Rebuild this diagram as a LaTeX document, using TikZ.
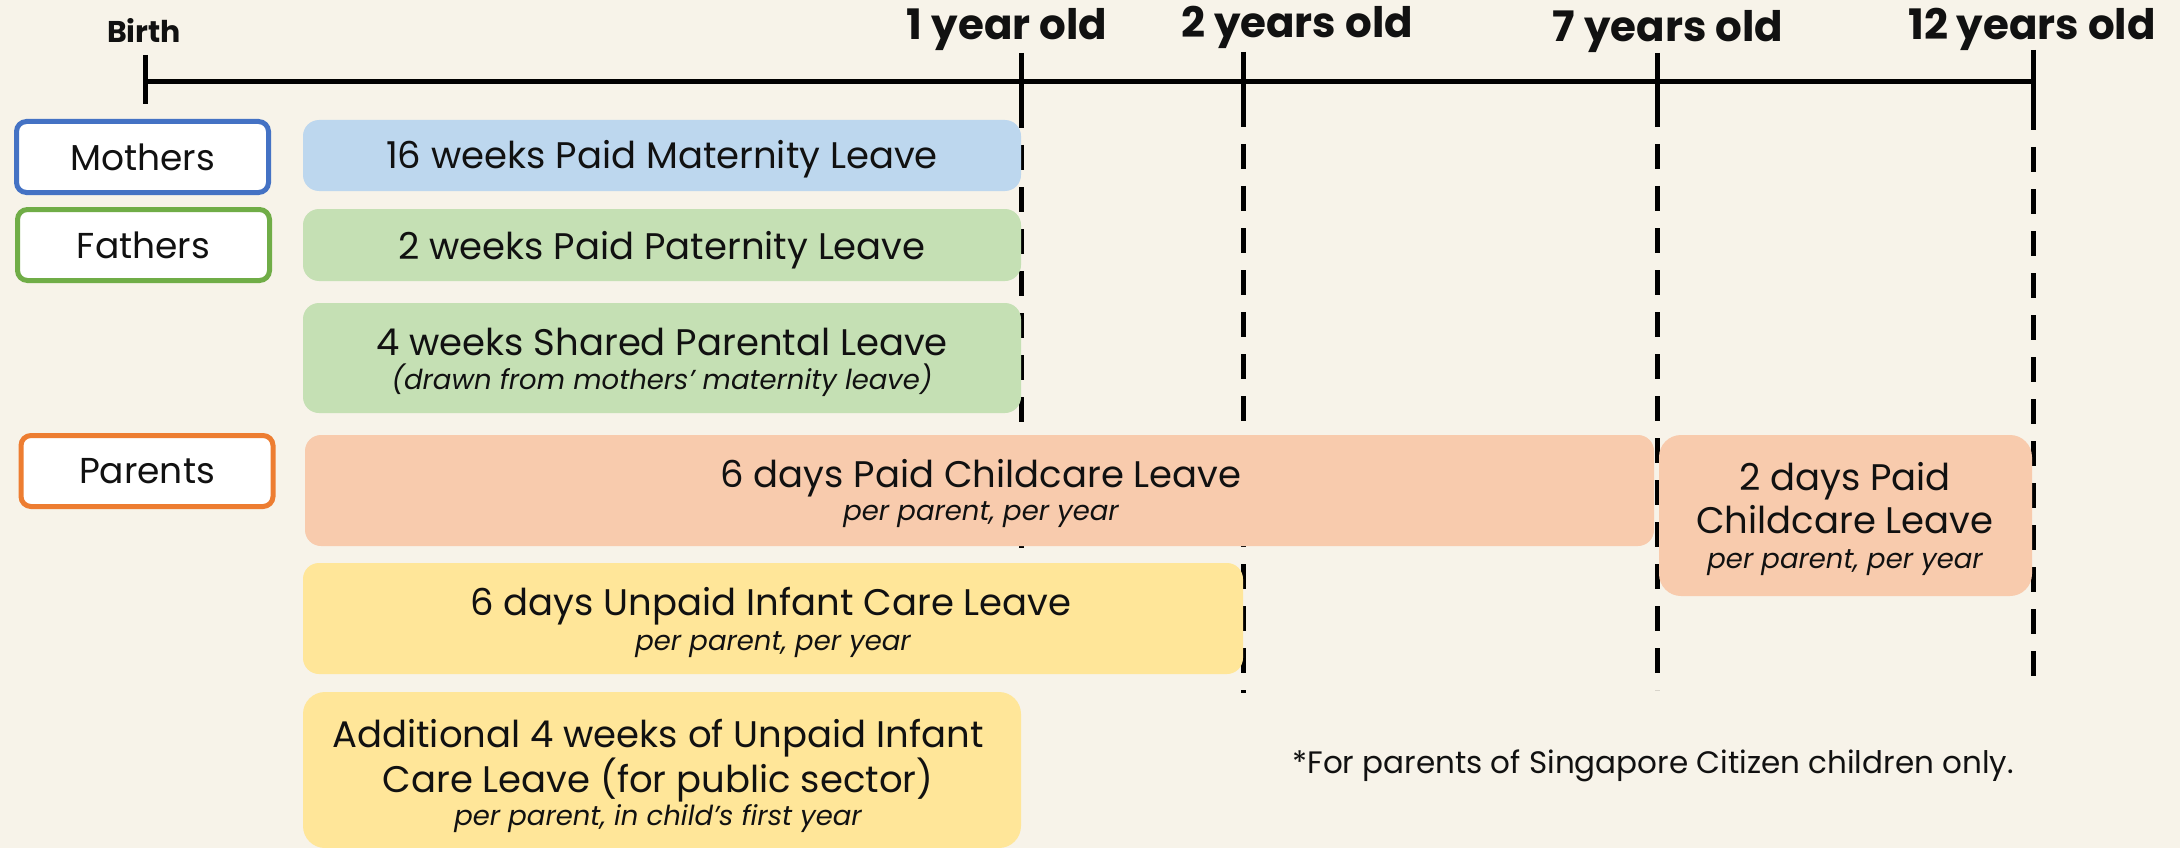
\documentclass[tikz,border=0pt]{standalone}
\usepackage{fontspec}
\setmainfont{Poppins}
\definecolor{bgc}{HTML}{F7F3E9}
\definecolor{txt}{HTML}{111111}
\definecolor{bluebar}{HTML}{BDD7EE}
\definecolor{greenbar}{HTML}{C5E0B4}
\definecolor{orangebar}{HTML}{F8CBAD}
\definecolor{yellowbar}{HTML}{FFE699}
\definecolor{blueline}{HTML}{4472C4}
\definecolor{greenline}{HTML}{70AD47}
\definecolor{orangeline}{HTML}{ED7D31}
\tikzset{
  bar/.style={rounded corners=16pt, draw=none, inner sep=0pt},
  who/.style={rounded corners=10pt, draw, line width=5pt, fill=white, inner sep=0pt,
    minimum width=252pt, minimum height=71pt, text=txt, font=\fontsize{36}{40}\selectfont},
  head/.style={anchor=base, text=txt, inner sep=0pt, font=\bfseries\fontsize{42}{46}\selectfont},
  main/.style={anchor=base, text=txt, inner sep=0pt, font=\fontsize{37}{40}\selectfont},
  sub/.style={anchor=base, text=txt, inner sep=0pt, font=\itshape\fontsize{27.5}{30}\selectfont},
  note/.style={anchor=base, text=txt, inner sep=0pt, font=\fontsize{31}{34}\selectfont},
  axis/.style={line width=5pt, black},
  guide/.style={line width=5pt, black, dash pattern=on 25pt off 17pt}
}
\begin{document}
\begin{tikzpicture}[x=1pt,y=-1pt]
\useasboundingbox (0,0) rectangle (2180,848);
\fill[bgc] (0,0) rectangle (2180,848);
% timeline coordinates
\coordinate (t0) at (145,82);
\coordinate (t1) at (1021,82);
\coordinate (t2) at (1243,82);
\coordinate (t3) at (1657,82);
\coordinate (t4) at (2033,82);
\coordinate (t0a) at (145,55);  \coordinate (t0b) at (145,104);
\coordinate (t1a) at (1021,53); \coordinate (t1b) at (1021,103);
\coordinate (t2a) at (1243,52); \coordinate (t2b) at (1243,102);
\coordinate (t3a) at (1657,53); \coordinate (t3b) at (1657,102);
\coordinate (t4a) at (2033,50); \coordinate (t4b) at (2033,105);
\coordinate (g1) at (1021,600);
\coordinate (g2) at (1243,693);
\coordinate (g3) at (1657,690);
\coordinate (g4) at (2033,692);
% guide lines
\draw[guide] (t1b) -- (g1);
\draw[guide] (t2b) -- (g2);
\draw[guide] (t3b) -- (g3);
\draw[guide] (t4b) -- (g4);
% axis
\draw[axis] (t0) -- (t4);
\draw[axis] (t0a) -- (t0b);
\draw[axis] (t1a) -- (t1b);
\draw[axis] (t2a) -- (t2b);
\draw[axis] (t3a) -- (t3b);
\draw[axis] (t4a) -- (t4b);
% header labels
\node[head, font=\bfseries\fontsize{30}{33}\selectfont] (hb) at (144,43) {Birth};
\node[head] (h1) at (1007,40) {1 year old};
\node[head] (h2) at (1297,38) {2 years old};
\node[head] (h7) at (1668,42) {7 years old};
\node[head] (h12) at (2032,40) {12 years old};
% who boxes
\node[who, draw=blueline] (mothers) at (142.5,157) {Mothers};
\node[who, draw=greenline] (fathers) at (143.5,245) {Fathers};
\node[who, draw=orangeline] (parents) at (147,471) {Parents};
% bars
\node[bar, fill=bluebar, minimum width=718pt, minimum height=71pt] (mat) at (662,155.5) {};
\node[bar, fill=greenbar, minimum width=718pt, minimum height=72pt] (pat) at (662,245) {};
\node[bar, fill=greenbar, minimum width=718pt, minimum height=110pt] (shr) at (662,358) {};
\node[bar, fill=orangebar, minimum width=1349pt, minimum height=111pt] (cc6) at (979.5,490.5) {};
\node[bar, fill=orangebar, minimum width=373pt, minimum height=161pt, rounded corners=22pt] (cc2) at (1845.5,515.5) {};
\node[bar, fill=yellowbar, minimum width=940pt, minimum height=111pt] (uic) at (773,618.5) {};
\node[bar, fill=yellowbar, minimum width=718pt, minimum height=156pt, rounded corners=22pt] (add) at (662,770) {};
% bar texts
\node[main] (matT) at (662,168) {16 weeks Paid Maternity Leave};
\node[main] (patT) at (662,259) {2 weeks Paid Paternity Leave};
\node[main] (shrT) at (662,355) {4 weeks Shared Parental Leave};
\node[sub] (shrS) at (662,389) {(drawn from mothers’ maternity leave)};
\node[main] (cc6T) at (981,487) {6 days Paid Childcare Leave};
\node[sub] (cc6S) at (981,520) {per parent, per year};
\node[main] (cc2T) at (1845,490) {2 days Paid};
\node[main] (cc2U) at (1845,533) {Childcare Leave};
\node[sub] (cc2S) at (1845,568) {per parent, per year};
\node[main] (uicT) at (771,615) {6 days Unpaid Infant Care Leave};
\node[sub] (uicS) at (773,650) {per parent, per year};
\node[main] (addT) at (658,747) {Additional 4 weeks of Unpaid Infant};
\node[main] (addU) at (658,792) {Care Leave (for public sector)};
\node[sub] (addS) at (658,825) {per parent, in child’s first year};
\node[note] (fn) at (1653,773) {*For parents of Singapore Citizen children only.};
\end{tikzpicture}
\end{document}
